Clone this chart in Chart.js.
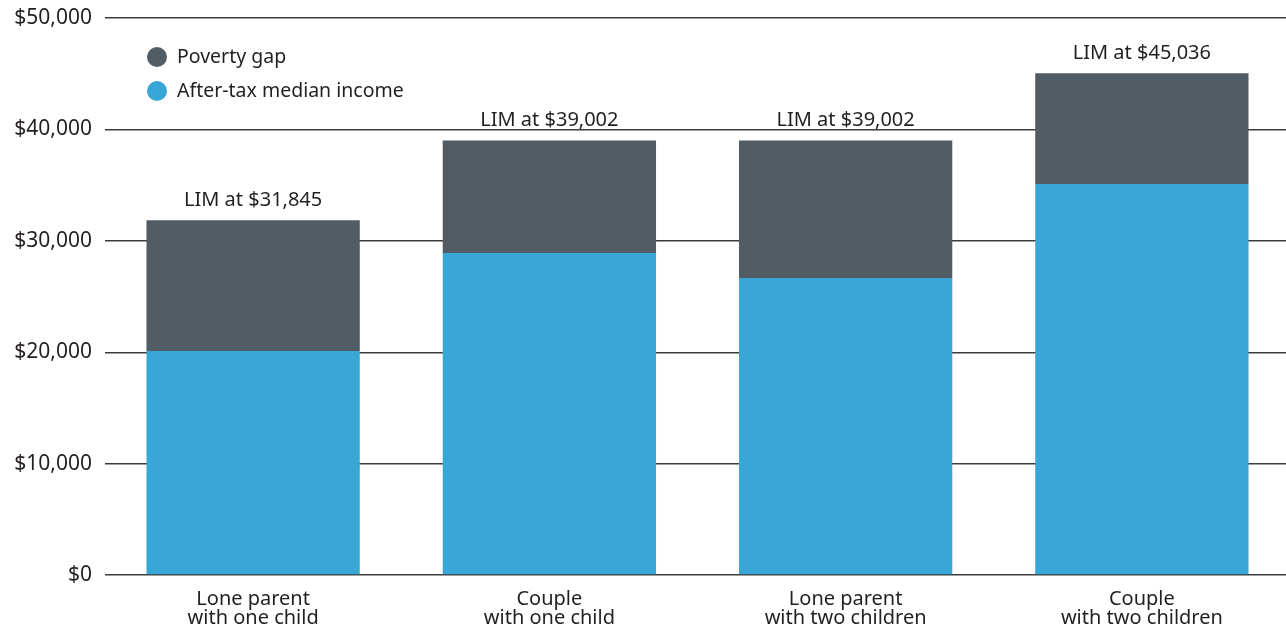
<!DOCTYPE html>
<html>
<head>
<meta charset="utf-8">
<script src="https://cdn.jsdelivr.net/npm/chart.js@4/dist/chart.umd.min.js"></script>
<style>
    html, body { margin: 0; padding: 0; background: #fff; overflow: hidden; }
    #wrap { width: 1290px; height: 630px; position: relative; }
</style>
</head>
<body>
<div id="wrap"><canvas id="lim-chart"></canvas></div>
<script>
// family types and the low income measure (LIM) for each
const families = [
    ['Lone parent', 'with one child'],
    ['Couple', 'with one child'],
    ['Lone parent', 'with two children'],
    ['Couple', 'with two children']
]
const limValues = [31845, 39002, 39002, 45036]
const medianIncome = [20100, 28900, 26660, 35100]
const yTicks = [0, 10000, 20000, 30000, 40000, 50000]

// gap between the median income and the LIM line
const povertyGap = limValues.map((v, i) => v - medianIncome[i])

const FONT = '"Noto Sans", sans-serif'
const TEXT = '#231f20'
const GAP_COLOR = '#515c64'
const INCOME_COLOR = '#38a6d6'

const money = v => '$' + v.toLocaleString('en-US')

// "LIM at $..." labels above each stack
const limLabels = {
    id: 'limLabels',
    afterDatasetsDraw(chart) {
        const ctx = chart.ctx
        const y = chart.scales.y
        const meta = chart.getDatasetMeta(1)
        ctx.save()
        ctx.font = '20px ' + FONT
        ctx.fillStyle = TEXT
        ctx.textAlign = 'center'
        ctx.textBaseline = 'middle'
        meta.data.forEach((bar, i) => {
            ctx.fillText('LIM at ' + money(limValues[i]), bar.x, y.getPixelForValue(limValues[i]) - 20)
        })
        ctx.restore()
    }
}

// legend with round markers in the top left corner
const dotLegend = {
    id: 'dotLegend',
    afterDraw(chart) {
        const ctx = chart.ctx
        const items = chart.data.datasets.slice().reverse()
        ctx.save()
        ctx.font = '19.5px ' + FONT
        ctx.textBaseline = 'middle'
        items.forEach((ds, i) => {
            const cy = 57 + i * 34
            ctx.beginPath()
            ctx.arc(157, cy, 10, 0, Math.PI * 2)
            ctx.fillStyle = ds.backgroundColor
            ctx.fill()
            ctx.fillStyle = TEXT
            ctx.fillText(ds.label, 177, cy)
        })
        ctx.restore()
    }
}

const config = {
    type: 'bar',
    data: {
        labels: families,
        datasets: [
            {
                label: 'After-tax median income',
                data: medianIncome,
                backgroundColor: INCOME_COLOR
            },
            {
                label: 'Poverty gap',
                data: povertyGap,
                backgroundColor: GAP_COLOR
            }
        ]
    },
    options: {
        responsive: true,
        maintainAspectRatio: false,
        animation: false,
        layout: { padding: { top: 18, right: 0, left: 0, bottom: 0 } },
        categoryPercentage: 1,
        barPercentage: 0.72,
        plugins: {
            legend: { display: false },
            tooltip: { enabled: false }
        },
        scales: {
            x: {
                stacked: true,
                grid: { display: false },
                border: { display: false },
                ticks: {
                    color: TEXT,
                    font: { family: FONT, size: 20, lineHeight: 0.95 },
                    padding: 7,
                    maxRotation: 0
                },
                afterFit(scale) { scale.height = 55 }
            },
            y: {
                stacked: true,
                min: 0,
                max: 50000,
                afterBuildTicks(scale) {
                    scale.ticks = yTicks.map(v => ({ value: v }))
                },
                grid: {
                    color: '#3c3c3c',
                    lineWidth: 1.4,
                    drawTicks: false
                },
                border: { display: false },
                ticks: {
                    color: TEXT,
                    font: { family: FONT, size: 21 },
                    padding: 13,
                    callback: v => money(v)
                },
                afterFit(scale) {
                    scale.width = 105
                    scale.paddingTop = 0
                    scale.paddingBottom = 0
                }
            }
        }
    },
    plugins: [limLabels, dotLegend]
}

new Chart(document.querySelector('#lim-chart'), config)
</script>
</body>
</html>
